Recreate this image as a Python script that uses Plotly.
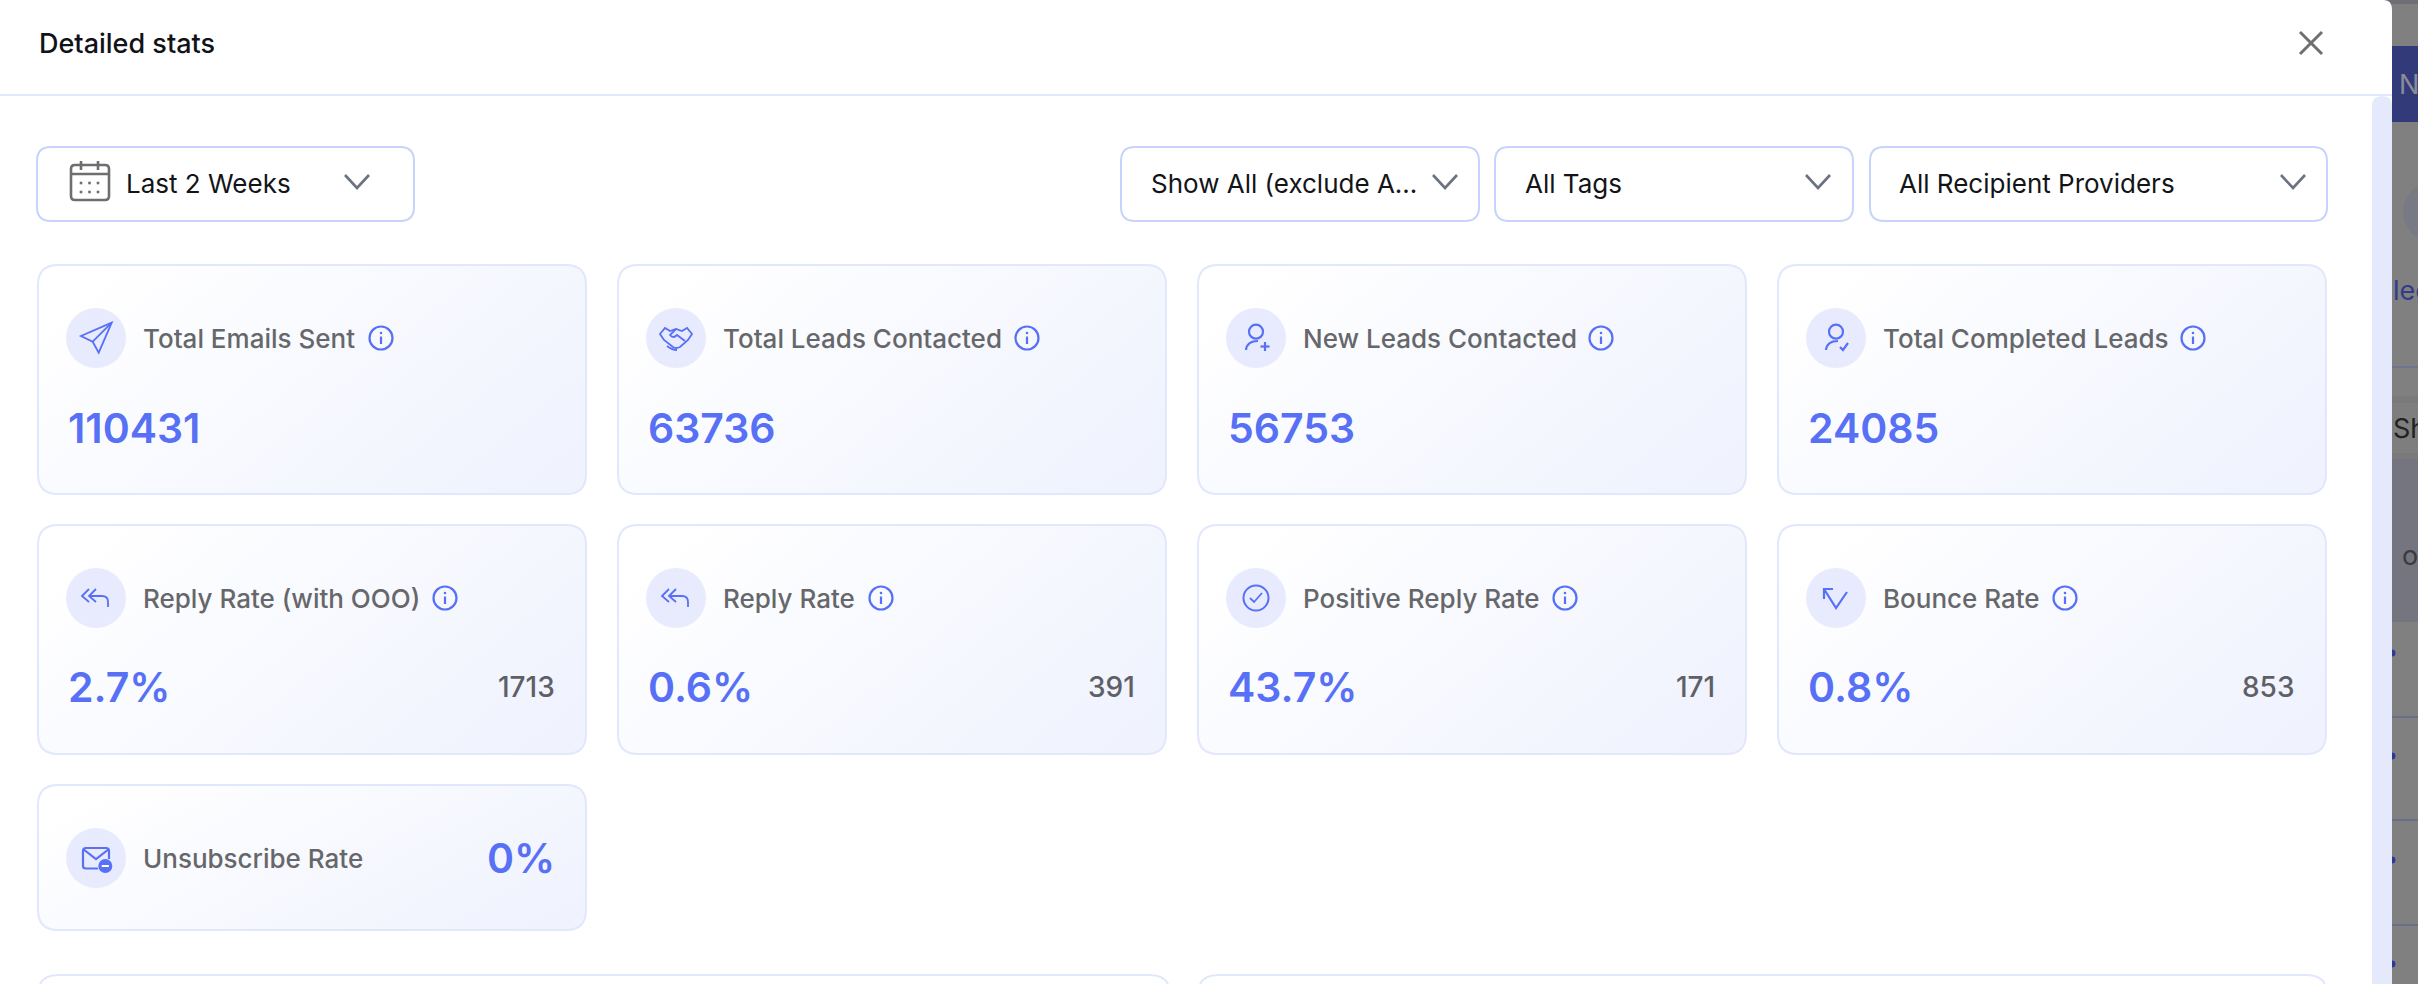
import base64
import plotly.graph_objects as go

# ---------- content ----------
title = "Detailed stats"
date_filter = "Last 2 Weeks"
filters = ["Show All (exclude A...", "All Tags", "All Recipient Providers"]
top_labels = ["Total Emails Sent", "Total Leads Contacted", "New Leads Contacted", "Total Completed Leads"]
top_values = ["110431", "63736", "56753", "24085"]
rate_labels = ["Reply Rate (with OOO)", "Reply Rate", "Positive Reply Rate", "Bounce Rate"]
rate_values = ["2.7%", "0.6%", "43.7%", "0.8%"]
rate_counts = ["1713", "391", "171", "853"]
unsub_label = "Unsubscribe Rate"
unsub_value = "0%"

# ---------- style / layout constants ----------
W, H = 2418, 984
FONT = "Inter"
BLUE = "#5770f5"
GREY_TXT = "#66676b"
CIRCLE = "#e8ebfd"
CARD_BORDER = "#e1e7fc"
DD_BORDER = "#c6d4fb"
CARD_X = [37, 617, 1197, 1777]
CARD_W = 550
INFO_TOP = [344, 410, 404, 416]
INFO_RATE = [408, 264, 368, 288]
ROW_Y = [264, 524, 784]
ROW_H = [231, 231, 147]

shapes, anns, images = [], [], []


def rrect(x0, y0, x1, y1, r):
    return (f"M{x0+r},{y0} L{x1-r},{y0} Q{x1},{y0} {x1},{y0+r} L{x1},{y1-r} Q{x1},{y1} {x1-r},{y1} "
            f"L{x0+r},{y1} Q{x0},{y1} {x0},{y1-r} L{x0},{y0+r} Q{x0},{y0} {x0+r},{y0} Z")


def path(d, color=None, w=0, fill=None):
    s = dict(type="path", path=d, line=dict(color=color or "rgba(0,0,0,0)", width=w))
    if fill:
        s["fillcolor"] = fill
    shapes.append(s)


def circle(cx, cy, r, fill=None, color=None, w=0):
    shapes.append(dict(type="circle", x0=cx - r, x1=cx + r, y0=cy - r, y1=cy + r,
                       fillcolor=fill or "rgba(0,0,0,0)",
                       line=dict(color=color or "rgba(0,0,0,0)", width=w)))


def rect(x0, y0, x1, y1, fill):
    shapes.append(dict(type="rect", x0=x0, x1=x1, y0=y0, y1=y1, fillcolor=fill, line=dict(width=0)))


def text(x, y, s, size, color, weight=400, anchor="left"):
    anns.append(dict(x=x, y=y, text=s, showarrow=False, xanchor=anchor, yanchor="middle",
                     font=dict(family=FONT, size=size, color=color, weight=weight)))


def icon(d, cx, cy, color=BLUE, w=2):
    """Draw path commands given relative to the icon centre."""
    out, toks = [], d.split()
    for t in toks:
        cmd = t[0] if t[0].isalpha() else ""
        body = t[1:] if cmd else t
        if cmd == "Z":
            out.append("Z")
            continue
        a, b = body.split(",")
        out.append(f"{cmd}{float(a)+cx},{float(b)+cy}")
    path(" ".join(out), color=color, w=w)


def gradient(x, y, w, h):
    svg = (f'<svg xmlns="http://www.w3.org/2000/svg" width="{w}" height="{h}" viewBox="0 0 {w} {h}">'
           '<defs><linearGradient id="g" x1="0" y1="0.25" x2="1" y2="0.75">'
           '<stop offset="0" stop-color="#ffffff"/><stop offset="1" stop-color="#f0f3fe"/>'
           f'</linearGradient></defs><rect x="1" y="1" width="{w-2}" height="{h-2}" rx="20" fill="url(#g)"/></svg>')
    src = "data:image/svg+xml;base64," + base64.b64encode(svg.encode()).decode()
    images.append(dict(source=src, xref="x", yref="y", x=x, y=y, sizex=w, sizey=h,
                       xanchor="left", yanchor="top", sizing="stretch", layer="below"))


ICONS = {
    "send": ["M15.7,-15.3 L-15,-2 L-3.3,3.7 L2.7,14.7 Z", "M15.7,-15.3 L-3.3,3.7"],
    "hands": ["M-16,-4 L-11,-10 L-6,-7 L0,-9 L6,-7 L11,-10 L16,-4 L12,2 L4,9 Q0,11 -3,9 L-12,2 Z",
              "M0,-9 L-6,-3 Q-3,1 1,-3 L9,3", "M-9,8 Q-4,12 1,12"],
    "plus": ["M-10,12 Q-9,3 2,3", "M9,4 L9,13", "M4.5,8.5 L13.5,8.5"],
    "check": ["M-10,12 Q-9,3 2,3", "M4,9 L7,12 L12,5"],
    "reply": ["M-7,-9 L-14,-2 L-7,4", "M0,-9 L-7,-2 L0,4", "M-7,-2 L6,-2 Q12,-2 12,4 L12,9"],
    "tick": ["M-6,0 L-2,4 L6,-5"],
    "bounce": ["M-12,1 L-12,-9 L-3,-9", "M-12,-9 L0,10 L11,-6"],
    "mail": ["M2,10.5 L-10,10.5 Q-13,10.5 -13,8 L-13,-7 Q-13,-10 -10,-10 L10,-10 Q13,-10 13,-7 L13,1",
             "M-13,-9 L0,1 L13,-9"],
}


def draw_icon(name, cx, cy):
    circle(cx, cy, 30, fill=CIRCLE)
    if name in ("plus", "check"):
        circle(cx, cy - 6.3, 7, color=BLUE, w=2.2)
    if name == "tick":
        circle(cx, cy, 12.5, color=BLUE, w=2)
    for d in ICONS[name]:
        icon(d, cx, cy, w=2.2 if name in ("plus", "check", "mail", "bounce") else 1.8)
    if name == "mail":
        circle(cx + 9.3, cy + 8, 7, fill=BLUE)
        icon("M5.7,8 L12.9,8", cx, cy, color="#ffffff", w=2)


def draw_info(cx, cy):
    circle(cx, cy, 11.5, color=BLUE, w=2.2)
    icon("M0,-1.5 L0,6", cx, cy, w=2.2)
    circle(cx, cy - 5, 1.3, fill=BLUE)


def card(x, y, w, h):
    gradient(x, y, w, h)
    path(rrect(x + 1, y + 1, x + w - 1, y + h - 1, 20), color=CARD_BORDER, w=2)


# ---------- right-hand page behind the dialog ----------
rect(2370, 0, W, H, "#808080")
rect(2370, 0, W, 4, "#6d6e76")
rect(2370, 46, W, 122, "#323a7a")
circle(2433, 212, 30, fill="#777a85")
rect(2370, 366, W, 368, "#6f7590")
rect(2370, 396, W, 403, "#7a7a7a")
rect(2370, 403, W, 453, "#7e7e7e")
rect(2370, 453, W, 459, "#7a7a7a")
rect(2370, 459, W, 622, "#74757f")
for yy in (717, 820, 925):
    rect(2370, yy - 1, W, yy + 1, "#6a6f88")
for yy in (653, 756, 860, 964):
    circle(2392, yy, 3.5, fill="#30379a")
text(2397, 84, "N", 27, "#8a8b98", 400)
text(2391, 290, "lec", 27, "#323a8a", 400)
text(2391, 428, "Sh", 27, "#222222", 400)
text(2400, 555, "of", 27, "#3a3a40", 400)

# ---------- dialog ----------
path("M2360,0 L2384,0 Q2392,0 2392,10 L2392,984 L2360,984 Z", fill="#ffffff")
rect(0, 94, 2392, 96, "#e2e8fc")
path("M2372,984 L2372,106 Q2372,96 2382,96 Q2392,96 2392,106 L2392,984 Z", fill="#e5e9fc")
text(37, 43, title, 27, "#111318", 500)
icon("M-11,-11 L11,11", 2311, 43, color="#6f6f6f", w=3)
icon("M-11,11 L11,-11", 2311, 43, color="#6f6f6f", w=3)

# ---------- filters ----------
DD = [(37, 414), (1121, 1479), (1495, 1853), (1870, 2327)]
CHEV = [357, 1445, 1818, 2293]
TXT_X = [124, 1149, 1523, 1897]
labels = [date_filter] + filters
for (x0, x1), cx, tx, lab in zip(DD, CHEV, TXT_X, labels):
    path(rrect(x0, 147, x1, 221, 14), color=DD_BORDER, w=2)
    icon("M-12,-7 L0,6 L12,-7", cx, 182, color="#6b7280", w=2.6)
    text(tx, 183, lab, 26, "#121418", 400)

# calendar icon
path(rrect(71, 165, 109, 200, 4), color="#6e6e6e", w=2.6)
icon("M-19,0 L19,0", 90, 174, color="#6e6e6e", w=2.6)
for px in (81, 98):
    icon("M0,-5 L0,4", px, 166, color="#6e6e6e", w=2.6)
for py in (183, 192):
    for px in (81, 89.5, 98):
        rect(px - 1.3, py - 1.3, px + 1.3, py + 1.3, "#6e6e6e")

# ---------- stat cards ----------
top_icons = ["send", "hands", "plus", "check"]
for x, lab, val, ic, dx in zip(CARD_X, top_labels, top_values, top_icons, INFO_TOP):
    y = ROW_Y[0]
    card(x, y, CARD_W, ROW_H[0])
    draw_icon(ic, x + 59, y + 74)
    text(x + 104, y + 74, lab, 26, GREY_TXT, 500)
    draw_info(x + dx, y + 74)
    text(x + 29, y + 164, val, 41, BLUE, 600)

rate_icons = ["reply", "reply", "tick", "bounce"]
for x, lab, val, cnt, ic, dx in zip(CARD_X, rate_labels, rate_values, rate_counts, rate_icons, INFO_RATE):
    y = ROW_Y[1]
    card(x, y, CARD_W, ROW_H[1])
    draw_icon(ic, x + 59, y + 74)
    text(x + 104, y + 74, lab, 26, GREY_TXT, 500)
    draw_info(x + dx, y + 74)
    text(x + 29, y + 163, val, 41, BLUE, 600)
    text(x + 520, y + 163, cnt, 28, "#5f6066", 500, anchor="right")

x, y = CARD_X[0], ROW_Y[2]
card(x, y, CARD_W, ROW_H[2])
draw_icon("mail", x + 59, y + 74)
text(x + 104, y + 74, unsub_label, 26, GREY_TXT, 500)
text(x + 520, y + 74, unsub_value, 41, BLUE, 600, anchor="right")

# next row of panels, cut off by the window
for x0, x1 in ((37, 1170), (1197, 2327)):
    path(rrect(x0 + 1, 975, x1, 1010, 20), color=CARD_BORDER, w=2)

fig = go.Figure()
fig.update_layout(
    width=W, height=H, margin=dict(l=0, r=0, t=0, b=0), showlegend=False,
    paper_bgcolor="#ffffff", plot_bgcolor="#ffffff", hovermode=False,
    xaxis=dict(range=[0, W], visible=False, fixedrange=True),
    yaxis=dict(range=[H, 0], visible=False, fixedrange=True),
    shapes=shapes, annotations=anns, images=images,
)
fig.write_html("out.html", config=dict(displayModeBar=False, staticPlot=True),
               post_script="document.body.style.margin='0';document.body.style.overflow='hidden';")
